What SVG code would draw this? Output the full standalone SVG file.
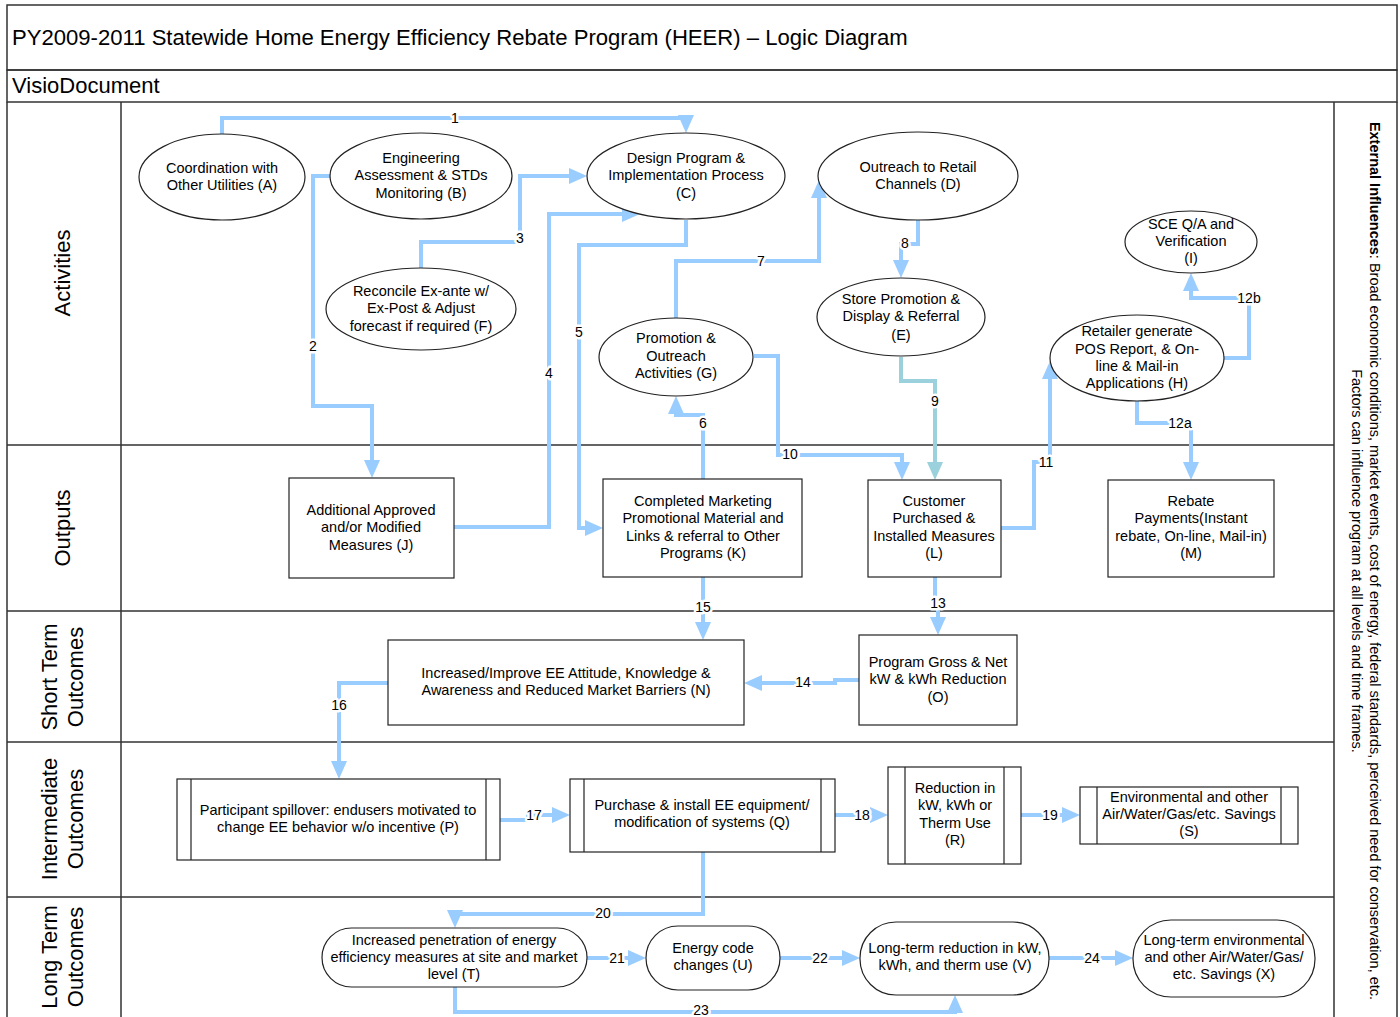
<svg xmlns="http://www.w3.org/2000/svg" width="1400" height="1017" viewBox="0 0 1400 1017">
<style>
text{font-family:"Liberation Sans",Arial,Helvetica,sans-serif;fill:#000}
.t{font-size:14.5px;text-anchor:middle}
.lane{font-size:22px;text-anchor:middle}
.ext{font-size:14.5px;text-anchor:middle}
.frame{fill:none;stroke:#333;stroke-width:1.5}
.shape{fill:#fff;stroke:#222;stroke-width:1.2}
.bar{stroke:#222;stroke-width:1.2}
.c{fill:none;stroke:#99ccff;stroke-width:4;marker-end:url(#arr)}
.c9{fill:none;stroke:#9bd1dc;stroke-width:4;marker-end:url(#arr9)}
.lbl{font-size:14px;text-anchor:middle;stroke:#fff;stroke-width:5px;paint-order:stroke;stroke-linejoin:round}
</style>
<defs>
<marker id="arr" viewBox="0 0 18 16" markerWidth="18" markerHeight="16" markerUnits="userSpaceOnUse" refX="13" refY="8" orient="auto"><path d="M0,0 L18,8 L0,16 z" fill="#99ccff"/></marker>
<marker id="arr9" viewBox="0 0 18 16" markerWidth="18" markerHeight="16" markerUnits="userSpaceOnUse" refX="13" refY="8" orient="auto"><path d="M0,0 L18,8 L0,16 z" fill="#9bd1dc"/></marker>
</defs>
<rect width="1400" height="1017" fill="#fff"/>

<g id="frame">
<rect class="frame" x="7" y="5" width="1390" height="65"/>
<rect class="frame" x="7" y="70" width="1390" height="32"/>
<path class="frame" d="M7,102 V1017 M121,102 V1017 M1334,102 V1017 M1397,102 V1017 M7,445 H1334 M7,611 H1334 M7,742 H1334 M7,897 H1334"/>
<text x="12" y="45" font-size="22.1px">PY2009-2011 Statewide Home Energy Efficiency Rebate Program (HEER) – Logic Diagram</text>
<text x="12" y="93" font-size="22px">VisioDocument</text>
</g>

<g id="lane-labels">
<text class="lane" transform="translate(63,273) rotate(-90)" y="7">Activities</text>
<text class="lane" transform="translate(63,528) rotate(-90)" y="7">Outputs</text>
<text class="lane" transform="translate(63,677) rotate(-90)"><tspan x="0" y="-6">Short Term</tspan><tspan x="0" y="20">Outcomes</tspan></text>
<text class="lane" transform="translate(63,819) rotate(-90)"><tspan x="0" y="-6">Intermediate</tspan><tspan x="0" y="20">Outcomes</tspan></text>
<text class="lane" transform="translate(63,957) rotate(-90)"><tspan x="0" y="-6">Long Term</tspan><tspan x="0" y="20">Outcomes</tspan></text>
</g>

<g id="external-influences">
<text class="ext" transform="translate(1366,561) rotate(90)"><tspan x="0" y="-4"><tspan font-weight="bold">External Influences</tspan>: Broad economic conditions, market events, cost of energy, federal standards, perceived need for conservation, etc.</tspan><tspan x="0" y="14">Factors can influence program at all levels and time frames.</tspan></text>
</g>

<g id="connectors">
<path class="c" d="M222,134 V118 H686 V128"/>
<path class="c" d="M330,176 H313 V406 H372 V473"/>
<path class="c" d="M421,268 V242 H520 V176 H582"/>
<path class="c" d="M454,527 H549 V214 H635"/>
<path class="c" d="M686,220 V245 H579 V528 H598"/>
<path class="c" d="M703,479 V415 H676 V401"/>
<path class="c" d="M676,318 V261 H819 V185"/>
<path class="c" d="M918,220 V244 H901 V273"/>
<path class="c9" d="M901,357 V381 H935 V475"/>
<path class="c" d="M754,356 H778 V455 H902 V475"/>
<path class="c" d="M1001,528 H1034 V462 H1050 V366"/>
<path class="c" d="M1137,400 V423 H1191 V475"/>
<path class="c" d="M1224,358 H1249 V298 H1191 V278"/>
<path class="c" d="M935,577 V603 H938 V630"/>
<path class="c" d="M859,680 H835 V683 H749"/>
<path class="c" d="M703,577 V635"/>
<path class="c" d="M388,683 H339 V774"/>
<path class="c" d="M500,820 H528 V815 H565"/>
<path class="c" d="M835,815 H883"/>
<path class="c" d="M1021,815 H1075"/>
<path class="c" d="M703,852 V914 H455 V923"/>
<path class="c" d="M587,958 H641"/>
<path class="c" d="M780,958 H855"/>
<path class="c" d="M455,987 V1012 H955 V1000"/>
<path class="c" d="M1049,958 H1128"/>
<text class="lbl" x="455" y="123">1</text>
<text class="lbl" x="313" y="351">2</text>
<text class="lbl" x="520" y="243">3</text>
<text class="lbl" x="549" y="378">4</text>
<text class="lbl" x="579" y="337">5</text>
<text class="lbl" x="703" y="428">6</text>
<text class="lbl" x="761" y="266">7</text>
<text class="lbl" x="905" y="248">8</text>
<text class="lbl" x="935" y="406">9</text>
<text class="lbl" x="790" y="459">10</text>
<text class="lbl" x="1046" y="467">11</text>
<text class="lbl" x="1180" y="428">12a</text>
<text class="lbl" x="1249" y="303">12b</text>
<text class="lbl" x="938" y="608">13</text>
<text class="lbl" x="803" y="687">14</text>
<text class="lbl" x="703" y="612">15</text>
<text class="lbl" x="339" y="710">16</text>
<text class="lbl" x="534" y="820">17</text>
<text class="lbl" x="862" y="820">18</text>
<text class="lbl" x="1050" y="820">19</text>
<text class="lbl" x="603" y="918">20</text>
<text class="lbl" x="617" y="963">21</text>
<text class="lbl" x="820" y="963">22</text>
<text class="lbl" x="701" y="1015">23</text>
<text class="lbl" x="1092" y="963">24</text>
</g>

<g id="node-A"><ellipse class="shape" cx="222" cy="177" rx="83" ry="43"/><text class="t"><tspan x="222" y="173">Coordination with</tspan><tspan x="222" y="190">Other Utilities (A)</tspan></text></g>
<g id="node-B"><ellipse class="shape" cx="421" cy="176" rx="91" ry="43"/><text class="t"><tspan x="421" y="163">Engineering</tspan><tspan x="421" y="180">Assessment &amp; STDs</tspan><tspan x="421" y="198">Monitoring (B)</tspan></text></g>
<g id="node-C"><ellipse class="shape" cx="686" cy="176" rx="99" ry="43"/><text class="t"><tspan x="686" y="163">Design Program &amp;</tspan><tspan x="686" y="180">Implementation Process</tspan><tspan x="686" y="198">(C)</tspan></text></g>
<g id="node-D"><ellipse class="shape" cx="918" cy="176" rx="100" ry="44"/><text class="t"><tspan x="918" y="172">Outreach to Retail</tspan><tspan x="918" y="189">Channels (D)</tspan></text></g>
<g id="node-F"><ellipse class="shape" cx="421" cy="309" rx="95" ry="41"/><text class="t"><tspan x="421" y="296">Reconcile Ex-ante w/</tspan><tspan x="421" y="313">Ex-Post &amp; Adjust</tspan><tspan x="421" y="331">forecast if required (F)</tspan></text></g>
<g id="node-G"><ellipse class="shape" cx="676" cy="357" rx="77" ry="39"/><text class="t"><tspan x="676" y="343">Promotion &amp;</tspan><tspan x="676" y="361">Outreach</tspan><tspan x="676" y="378">Activities (G)</tspan></text></g>
<g id="node-E"><ellipse class="shape" cx="901" cy="317" rx="84" ry="39"/><text class="t"><tspan x="901" y="304">Store Promotion &amp;</tspan><tspan x="901" y="321">Display &amp; Referral</tspan><tspan x="901" y="340">(E)</tspan></text></g>
<g id="node-I"><ellipse class="shape" cx="1191" cy="242" rx="66" ry="31"/><text class="t"><tspan x="1191" y="229">SCE Q/A and</tspan><tspan x="1191" y="246">Verification</tspan><tspan x="1191" y="263">(I)</tspan></text></g>
<g id="node-H"><ellipse class="shape" cx="1137" cy="358" rx="87" ry="43"/><text class="t"><tspan x="1137" y="336">Retailer generate</tspan><tspan x="1137" y="354">POS Report, &amp; On-</tspan><tspan x="1137" y="371">line &amp; Mail-in</tspan><tspan x="1137" y="388">Applications (H)</tspan></text></g>

<g id="node-J"><rect class="shape" x="289" y="478" width="165" height="100"/><text class="t"><tspan x="371" y="515">Additional Approved</tspan><tspan x="371" y="532">and/or Modified</tspan><tspan x="371" y="550">Measures (J)</tspan></text></g>
<g id="node-K"><rect class="shape" x="603" y="479" width="199" height="98"/><text class="t"><tspan x="703" y="506">Completed Marketing</tspan><tspan x="703" y="523">Promotional Material and</tspan><tspan x="703" y="541">Links &amp; referral to Other</tspan><tspan x="703" y="558">Programs (K)</tspan></text></g>
<g id="node-L"><rect class="shape" x="868" y="480" width="133" height="97"/><text class="t"><tspan x="934" y="506">Customer</tspan><tspan x="934" y="523">Purchased &amp;</tspan><tspan x="934" y="541">Installed Measures</tspan><tspan x="934" y="558">(L)</tspan></text></g>
<g id="node-M"><rect class="shape" x="1108" y="480" width="166" height="97"/><text class="t"><tspan x="1191" y="506">Rebate</tspan><tspan x="1191" y="523">Payments(Instant</tspan><tspan x="1191" y="541">rebate, On-line, Mail-in)</tspan><tspan x="1191" y="558">(M)</tspan></text></g>

<g id="node-N"><rect class="shape" x="388" y="640" width="356" height="85"/><text class="t"><tspan x="566" y="678">Increased/Improve EE Attitude, Knowledge &amp;</tspan><tspan x="566" y="695">Awareness and Reduced Market Barriers (N)</tspan></text></g>
<g id="node-O"><rect class="shape" x="859" y="635" width="158" height="90"/><text class="t"><tspan x="938" y="667">Program Gross &amp; Net</tspan><tspan x="938" y="684">kW &amp; kWh Reduction</tspan><tspan x="938" y="702">(O)</tspan></text></g>

<g id="node-P"><rect class="shape" x="177" y="779" width="323" height="81"/><path class="bar" d="M191,779 V860 M486,779 V860"/><text class="t"><tspan x="338" y="815">Participant spillover: endusers motivated to</tspan><tspan x="338" y="832">change EE behavior w/o incentive (P)</tspan></text></g>
<g id="node-Q"><rect class="shape" x="570" y="779" width="265" height="73"/><path class="bar" d="M584,779 V852 M821,779 V852"/><text class="t"><tspan x="702" y="810">Purchase &amp; install EE equipment/</tspan><tspan x="702" y="827">modification of systems (Q)</tspan></text></g>
<g id="node-R"><rect class="shape" x="888" y="767" width="133" height="97"/><path class="bar" d="M905,767 V864 M1004,767 V864"/><text class="t"><tspan x="955" y="793">Reduction in</tspan><tspan x="955" y="810">kW, kWh or</tspan><tspan x="955" y="828">Therm Use</tspan><tspan x="955" y="845">(R)</tspan></text></g>
<g id="node-S"><rect class="shape" x="1080" y="787" width="218" height="57"/><path class="bar" d="M1097,787 V844 M1281,787 V844"/><text class="t"><tspan x="1189" y="802">Environmental and other</tspan><tspan x="1189" y="819">Air/Water/Gas/etc. Savings</tspan><tspan x="1189" y="836">(S)</tspan></text></g>

<g id="node-T"><rect class="shape" x="322" y="928" width="265" height="59" rx="29.5"/><text class="t"><tspan x="454" y="945">Increased penetration of energy</tspan><tspan x="454" y="962">efficiency measures at site and market</tspan><tspan x="454" y="979">level (T)</tspan></text></g>
<g id="node-U"><rect class="shape" x="646" y="926" width="134" height="64" rx="32"/><text class="t"><tspan x="713" y="953">Energy code</tspan><tspan x="713" y="970">changes (U)</tspan></text></g>
<g id="node-V"><rect class="shape" x="860" y="922" width="189" height="73" rx="36"/><text class="t"><tspan x="955" y="953">Long-term reduction in kW,</tspan><tspan x="955" y="970">kWh, and therm use (V)</tspan></text></g>
<g id="node-X"><rect class="shape" x="1133" y="920" width="182" height="77" rx="38"/><text class="t"><tspan x="1224" y="945">Long-term environmental</tspan><tspan x="1224" y="962">and other Air/Water/Gas/</tspan><tspan x="1224" y="979">etc. Savings (X)</tspan></text></g>
</svg>
